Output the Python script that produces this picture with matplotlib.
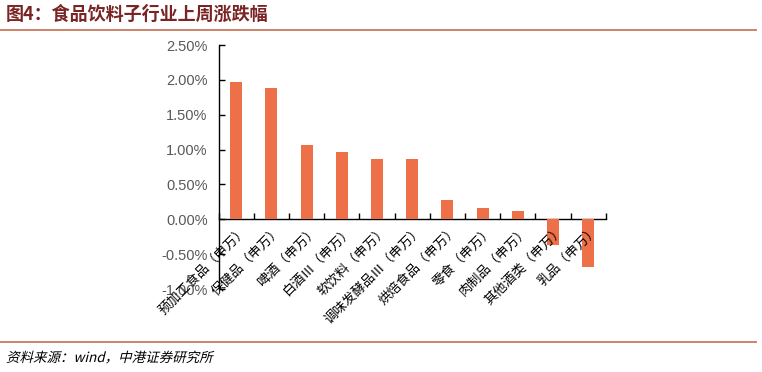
import numpy as np
import matplotlib
matplotlib.use("Agg")
import matplotlib.pyplot as plt
from matplotlib.ticker import FuncFormatter
from matplotlib.textpath import TextPath
from matplotlib.patches import PathPatch
from matplotlib.font_manager import FontProperties
from matplotlib.transforms import Affine2D

plt.rcParams['font.family'] = ['Noto Sans CJK SC', 'DejaVu Sans']
plt.rcParams['axes.unicode_minus'] = False

# 子行业及上周涨跌幅（%）
categories = ['预加工食品（申万）', '保健品（申万）', '啤酒（申万）', '白酒Ⅲ（申万）',
              '软饮料（申万）', '调味发酵品Ⅲ（申万）', '烘焙食品（申万）', '零食（申万）',
              '肉制品（申万）', '其他酒类（申万）', '乳品（申万）']
changes = [1.97, 1.88, 1.07, 0.96, 0.86, 0.86, 0.28, 0.16, 0.12, -0.37, -0.68]
yticks = [-1.0, -0.5, 0.0, 0.5, 1.0, 1.5, 2.0, 2.5]

fig = plt.figure(figsize=(7.62, 3.72), dpi=100)
ax = fig.add_axes([0.287, 0.223, 0.508, 0.656])

x = np.arange(len(categories))
ax.bar(x, changes, width=0.34, color='#EE7049', zorder=3)

ax.set_xlim(-0.5, len(categories) - 0.5)
ax.set_ylim(-1.0, 2.5)
ax.set_yticks(yticks)
ax.yaxis.set_major_formatter(FuncFormatter(lambda v, p: '%.2f%%' % v))
for lab in ax.get_yticklabels():
    lab.set_family(['Liberation Sans', 'DejaVu Sans'])
ax.tick_params(axis='y', direction='in', length=4, width=1, colors='black',
               labelcolor='#595959', labelsize=10.5, pad=8)

# x 轴放在 0 处，刻度在类别之间
ax.spines['top'].set_visible(False)
ax.spines['right'].set_visible(False)
ax.spines['bottom'].set_position(('data', 0))
ax.spines['left'].set_linewidth(1)
ax.spines['bottom'].set_linewidth(1)
ax.set_xticks(np.arange(len(categories) + 1) - 0.5)
ax.set_xticklabels([])
ax.tick_params(axis='x', direction='in', length=4, width=1)

for i, name in enumerate(categories):
    ax.annotate(name, xy=(i + 0.12, 0), xytext=(0, -3), textcoords='offset points',
                rotation=45, ha='right', va='top', rotation_mode='anchor',
                fontsize=9.5, color='black')

# 标题和来源
fig.text(0.008, 0.962, '图4：食品饮料子行业上周涨跌幅', fontsize=13,
         fontweight='bold', color='#7A2424', va='center')
fig.add_artist(plt.Line2D([0.0, 0.992], [0.919, 0.919], color='#C9785F', lw=1.3))
fig.add_artist(plt.Line2D([0.0, 0.992], [0.081, 0.081], color='#C9785F', lw=1.3))

# 来源文字用斜体（中文字体无斜体，做一个倾斜变换）
tp = TextPath((0, 0), '资料来源：wind，中港证券研究所', size=13.5,
              prop=FontProperties(family='Noto Sans CJK SC'))
src = PathPatch(tp, color='black', lw=0,
                transform=Affine2D().skew_deg(14, 0).translate(6, 372 - 362))
fig.add_artist(src)

fig.savefig('out.png', dpi=100)
